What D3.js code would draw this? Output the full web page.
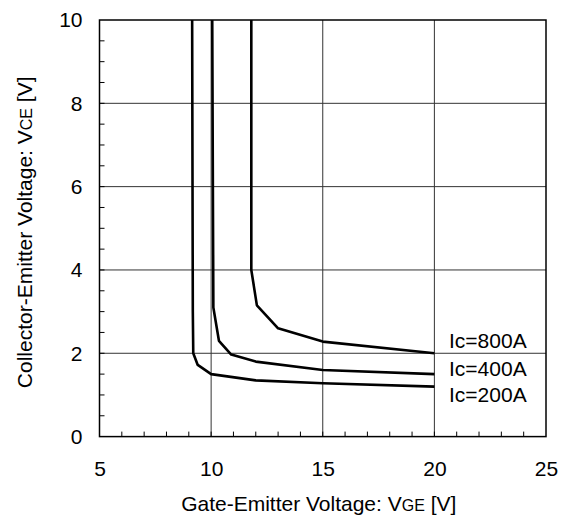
<!DOCTYPE html>
<html><head><meta charset="utf-8">
<script src="https://cdn.jsdelivr.net/npm/d3@7"></script>
<style>
html,body{margin:0;padding:0;background:#fff;}
text{font-family:Arial,"Liberation Sans",sans-serif;fill:#000;}
</style></head>
<body>
<svg id="c" width="566" height="519"></svg>
<script>
// Data
const xTicks = [5, 10, 15, 20, 25];
const yTicks = [0, 2, 4, 6, 8, 10];
const seriesNames = ["Ic=200A", "Ic=400A", "Ic=800A"];
const ic200 = [[9.15,10],[9.18,3.0],[9.2,2.0],[9.4,1.72],[10.0,1.5],[12.0,1.35],[15.0,1.28],[20.0,1.2]];
const ic400 = [[10.05,10],[10.1,3.1],[10.35,2.3],[10.9,1.97],[12.0,1.8],[15.0,1.6],[20.0,1.5]];
const ic800 = [[11.8,10],[11.8,4.0],[12.05,3.15],[13.0,2.6],[15.0,2.28],[20.0,2.0]];

const svg = d3.select("#c");
const x = d3.scaleLinear().domain([5,25]).range([99.5,546]);
const y = d3.scaleLinear().domain([0,10]).range([436.6,20]);

// gridlines
const g = svg.append("g");
g.selectAll(".gx").data([10,15,20]).enter().append("line")
  .attr("x1",d=>x(d)).attr("x2",d=>x(d)).attr("y1",y(0)).attr("y2",y(10))
  .attr("stroke","#333").attr("stroke-width",1);
g.selectAll(".gy").data([2,4,6,8]).enter().append("line")
  .attr("x1",x(5)).attr("x2",x(25)).attr("y1",d=>y(d)).attr("y2",d=>y(d))
  .attr("stroke","#333").attr("stroke-width",1);

// minor ticks (inward)
const xMinor = d3.range(6,25,1);
const yMinor = d3.range(0.5,10,0.5);
g.selectAll(".mx").data(xMinor).enter().append("line")
  .attr("x1",d=>x(d)).attr("x2",d=>x(d)).attr("y1",y(0)).attr("y2",y(0)-5)
  .attr("stroke","#000").attr("stroke-width",1);
g.selectAll(".my").data(yMinor).enter().append("line")
  .attr("x1",x(5)).attr("x2",x(5)+5).attr("y1",d=>y(d)).attr("y2",d=>y(d))
  .attr("stroke","#000").attr("stroke-width",1);

// frame
svg.append("rect").attr("x",x(5)).attr("y",y(10)).attr("width",x(25)-x(5)).attr("height",y(0)-y(10))
  .attr("fill","none").attr("stroke","#000").attr("stroke-width",1.5);

// tick labels via d3 axes (tick marks hidden)
const ax = svg.append("g").attr("transform",`translate(0,${y(0)})`)
  .call(d3.axisBottom(x).tickValues(xTicks).tickSize(0).tickPadding(24).tickFormat(d3.format("d")));
const ay = svg.append("g").attr("transform",`translate(${x(5)},0)`)
  .call(d3.axisLeft(y).tickValues(yTicks).tickSize(0).tickPadding(17).tickFormat(d3.format("d")));
[ax,ay].forEach(a=>{a.select(".domain").remove(); a.selectAll("text").attr("font-size",21).attr("font-family","Arial, Liberation Sans, sans-serif").attr("fill","#000");});

// curves
const line = d3.line().x(d=>x(d[0])).y(d=>y(d[1]));
[ic200, ic400, ic800].forEach(s=>{
  svg.append("path").datum(s).attr("d",line).attr("fill","none")
    .attr("stroke","#000").attr("stroke-width",2.6).attr("stroke-linejoin","round");
});

// series labels
const labBase = [401.7, 375.7, 348.3];
seriesNames.forEach((n,i)=>{
  svg.append("text").attr("x",449).attr("y",labBase[i]).attr("font-size",21).text(n);
});

// axis titles
const xt = svg.append("text").attr("x",(x(5)+x(25))/2-4).attr("y",511).attr("text-anchor","middle").attr("font-size",21);
xt.append("tspan").text("Gate-Emitter Voltage: V");
xt.append("tspan").attr("font-size",16).text("GE");
xt.append("tspan").text(" [V]");

const yt = svg.append("text").attr("transform",`translate(32,${(y(0)+y(10))/2+4}) rotate(-90)`).attr("text-anchor","middle").attr("font-size",21);
yt.append("tspan").text("Collector-Emitter Voltage: V");
yt.append("tspan").attr("font-size",16).text("CE");
yt.append("tspan").text(" [V]");
</script>
</body></html>
